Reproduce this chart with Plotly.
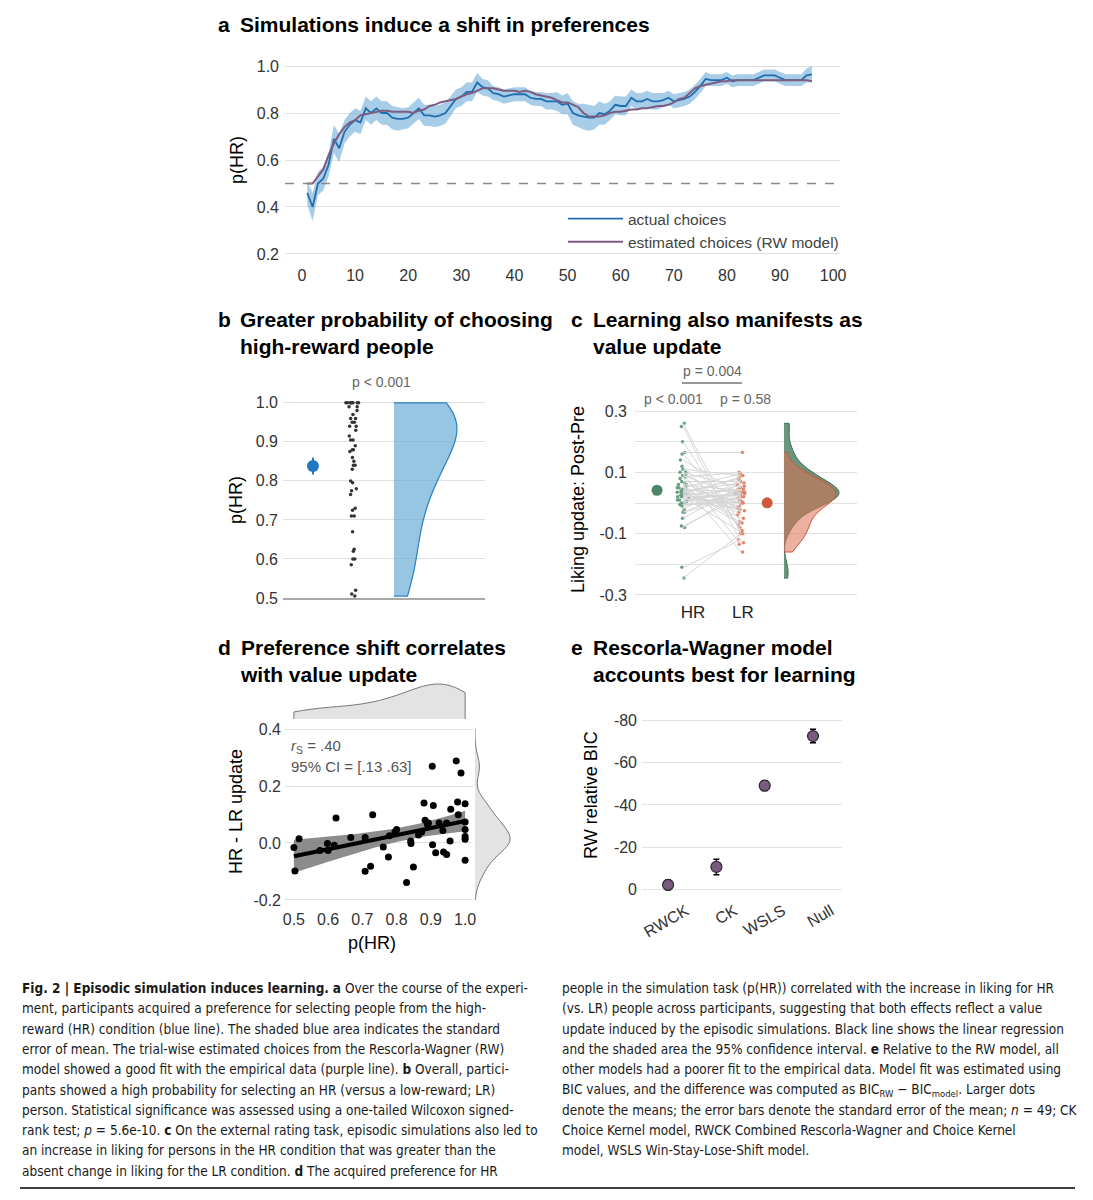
import numpy as np
import plotly.graph_objects as go

W, H = 1093, 1200
FONT = "Liberation Sans, Arial, sans-serif"
CAPTION_FONT = "Liberation Sans Narrow, DejaVu Sans Condensed, sans-serif"

# panel a - trial-wise preference for HR
trials = list(range(1, 97))
actual_choices = [0.46, 0.40, 0.50, 0.52, 0.58, 0.69, 0.65, 0.72, 0.75, 0.77,
                  0.76, 0.82, 0.80, 0.82, 0.80, 0.80, 0.78, 0.775, 0.775, 0.78,
                  0.80, 0.82, 0.79, 0.79, 0.785, 0.79, 0.80, 0.83, 0.86, 0.87,
                  0.89, 0.89, 0.93, 0.91, 0.905, 0.885, 0.88, 0.87, 0.875, 0.88,
                  0.88, 0.88, 0.865, 0.86, 0.86, 0.85, 0.85, 0.85, 0.835, 0.84,
                  0.80, 0.79, 0.785, 0.78, 0.78, 0.80, 0.795, 0.81, 0.835, 0.83,
                  0.83, 0.865, 0.85, 0.85, 0.86, 0.85, 0.85, 0.855, 0.865, 0.85,
                  0.855, 0.86, 0.87, 0.89, 0.915, 0.945, 0.94, 0.94, 0.94, 0.95,
                  0.935, 0.94, 0.94, 0.94, 0.94, 0.95, 0.96, 0.96, 0.96, 0.95,
                  0.94, 0.94, 0.94, 0.94, 0.96, 0.965]
actual_se = [0.05, 0.06, 0.05, 0.05, 0.05, 0.06, 0.06, 0.05, 0.05, 0.05,
             0.05, 0.05, 0.05, 0.05, 0.05, 0.05, 0.05, 0.05, 0.045, 0.045,
             0.045, 0.045, 0.045, 0.045, 0.045, 0.045, 0.045, 0.045, 0.04, 0.04,
             0.04, 0.04, 0.04, 0.035, 0.035, 0.03, 0.03, 0.03, 0.03, 0.03,
             0.03, 0.03, 0.03, 0.03, 0.03, 0.035, 0.035, 0.04, 0.04, 0.045,
             0.05, 0.05, 0.055, 0.055, 0.05, 0.05, 0.045, 0.04, 0.04, 0.04,
             0.04, 0.035, 0.035, 0.035, 0.035, 0.035, 0.035, 0.03, 0.03, 0.03,
             0.03, 0.03, 0.03, 0.03, 0.03, 0.03, 0.025, 0.025, 0.025, 0.025,
             0.025, 0.025, 0.025, 0.025, 0.025, 0.025, 0.025, 0.025, 0.025, 0.025,
             0.025, 0.025, 0.025, 0.025, 0.03, 0.035]
rw_estimated = [0.50, 0.50, 0.53, 0.56, 0.62, 0.67, 0.71, 0.74, 0.76, 0.77,
                0.79, 0.795, 0.80, 0.805, 0.81, 0.81, 0.805, 0.805, 0.805, 0.805,
                0.80, 0.81, 0.815, 0.83, 0.835, 0.845, 0.85, 0.855, 0.86, 0.87,
                0.88, 0.885, 0.895, 0.905, 0.905, 0.905, 0.90, 0.895, 0.895, 0.895,
                0.89, 0.895, 0.89, 0.88, 0.875, 0.87, 0.865, 0.855, 0.845, 0.845,
                0.835, 0.825, 0.80, 0.785, 0.785, 0.785, 0.79, 0.80, 0.805, 0.805,
                0.81, 0.815, 0.815, 0.82, 0.82, 0.825, 0.83, 0.83, 0.835, 0.845,
                0.86, 0.865, 0.885, 0.905, 0.915, 0.92, 0.925, 0.93, 0.935, 0.935,
                0.94, 0.94, 0.94, 0.94, 0.94, 0.94, 0.94, 0.94, 0.94, 0.94,
                0.94, 0.94, 0.94, 0.94, 0.94, 0.935]
a_ticks = [0.2, 0.4, 0.6, 0.8, 1.0]
a_ticktext = ["0.2", "0.4", "0.6", "0.8", "1.0"]

# panel b - per-participant p(HR)
phr_b = [1.0, 1.0, 1.0, 1.0, 1.0, 1.0, 1.0, 1.0, 0.99, 0.99,
         0.98, 0.97, 0.96, 0.96, 0.95, 0.95, 0.94, 0.94, 0.93, 0.915,
         0.905, 0.905, 0.89, 0.88, 0.88, 0.875, 0.86, 0.85, 0.84, 0.84,
         0.83, 0.80, 0.795, 0.78, 0.775, 0.765, 0.73, 0.725, 0.71, 0.71,
         0.67, 0.625, 0.62, 0.60, 0.60, 0.585, 0.52, 0.51, 0.505]
b_ticks = [0.5, 0.6, 0.7, 0.8, 0.9, 1.0]
b_ticktext = ["0.5", "0.6", "0.7", "0.8", "0.9", "1.0"]

# panel c - liking update, paired per participant
liking_hr = [0.26, 0.25, 0.20, 0.165, 0.16, 0.14, 0.12, 0.11, 0.10, 0.10,
             0.095, 0.09, 0.085, 0.08, 0.07, 0.065, 0.06, 0.055, 0.05, 0.05,
             0.045, 0.045, 0.04, 0.04, 0.035, 0.03, 0.03, 0.025, 0.025, 0.02,
             0.02, 0.015, 0.01, 0.01, 0.005, 0.0, 0.0, -0.005, -0.01, -0.02,
             -0.03, -0.03, -0.05, -0.075, -0.08, -0.21, -0.245, 0.06, 0.035]
liking_lr = [-0.10, -0.13, -0.09, 0.165, -0.06, 0.03, -0.08, 0.09, -0.03, 0.05,
             -0.135, 0.02, 0.10, -0.04, 0.07, -0.02, 0.04, -0.065, 0.095, 0.0,
             -0.05, 0.035, -0.07, 0.065, 0.01, -0.025, 0.085, -0.01, 0.045, -0.095,
             0.025, 0.0, 0.035, 0.03, 0.015, -0.015, 0.06, 0.005, 0.03, 0.075,
             0.045, 0.02, 0.055, 0.02, 0.035, -0.12, -0.10, -0.16, 0.08]
c_ticks = [-0.3, -0.1, 0.1, 0.3]
c_ticktext = ["-0.3", "-0.1", "0.1", "0.3"]
c_minor = [-0.2, 0.0, 0.2]

# panel d - preference shift vs value update
phr_d = [0.50, 0.503, 0.515, 0.576, 0.598, 0.60, 0.618, 0.623, 0.666, 0.708,
         0.708, 0.724, 0.730, 0.761, 0.776, 0.779, 0.795, 0.80, 0.829, 0.841,
         0.842, 0.849, 0.864, 0.873, 0.88, 0.883, 0.893, 0.904, 0.905, 0.907,
         0.914, 0.924, 0.935, 0.937, 0.946, 0.946, 0.956, 0.958, 0.974, 0.978,
         0.980, 0.988, 1.0, 1.0, 1.0, 1.0, 1.0, 1.0, 0.89]
update_d = [-0.016, -0.098, 0.015, -0.026, -0.002, -0.026, -0.008, 0.088, 0.019, 0.019,
            -0.099, -0.082, 0.099, -0.014, -0.049, 0.025, 0.039, 0.047, -0.139, 0.007,
            -0.002, -0.084, 0.028, 0.039, 0.14, 0.080, 0.070, 0.269, -0.006, 0.132,
            -0.034, 0.070, 0.044, -0.032, -0.040, 0.070, 0.007, 0.118, 0.288, 0.144,
            0.099, 0.246, 0.138, 0.074, 0.047, 0.023, 0.013, -0.061, 0.065]
d_xticks = [0.5, 0.6, 0.7, 0.8, 0.9, 1.0]
d_xticktext = ["0.5", "0.6", "0.7", "0.8", "0.9", "1.0"]
d_yticks = [-0.2, 0.0, 0.2, 0.4]
d_yticktext = ["-0.2", "0.0", "0.2", "0.4"]

# panel e - BIC relative to RW
models = ["RWCK", "CK", "WSLS", "Null"]
bic_mean = [-2.1, -10.6, -49.2, -72.7]
bic_se = [2.3, 3.7, 2.3, 3.2]
e_ticks = [0, -20, -40, -60, -80]
e_ticktext = ["0", "-20", "-40", "-60", "-80"]

# the page puts the figure 8px in from the top-left corner
OFF = 8


def px(v):
    return (v - OFF) / W


def py(v):
    return 1 - (v - OFF) / H


BLUE = "#1f6fb0"
PURPLE = "#7d5c80"
GREEN = "#4f8468"
RED = "#d0593c"
GRID = "#e2e2e2"
TICK = dict(family=FONT, size=16, color="#333")

fig = go.Figure()

# ---------------- panel a
upper = [m + s for m, s in zip(actual_choices, actual_se)]
lower = [m - s for m, s in zip(actual_choices, actual_se)]
fig.add_trace(go.Scatter(x=trials + trials[::-1], y=upper + lower[::-1], fill="toself",
                         fillcolor="rgba(110,172,216,0.6)", line=dict(width=0),
                         showlegend=False, hoverinfo="skip", xaxis="x", yaxis="y"))
fig.add_trace(go.Scatter(x=trials, y=actual_choices, mode="lines", name="actual choices",
                         line=dict(color=BLUE, width=1.8), xaxis="x", yaxis="y"))
fig.add_trace(go.Scatter(x=trials, y=rw_estimated, mode="lines",
                         name="estimated choices (RW model)",
                         line=dict(color=PURPLE, width=2), xaxis="x", yaxis="y"))

# ---------------- panel b
mb = np.mean(phr_b)
seb = np.std(phr_b, ddof=1) / np.sqrt(len(phr_b))
fig.add_trace(go.Scatter(x=[0], y=[mb], mode="markers",
                         marker=dict(color="#1f78c1", size=12),
                         error_y=dict(type="data", array=[seb], color="#1f78c1", thickness=2, width=0),
                         showlegend=False, xaxis="x2", yaxis="y2"))
fig.add_trace(go.Box(y=phr_b, x0=1, boxpoints="all", jitter=0.9, pointpos=0, width=0.42,
                     marker=dict(color="#333", size=3.5), line=dict(color="rgba(0,0,0,0)"),
                     fillcolor="rgba(0,0,0,0)", showlegend=False, xaxis="x2", yaxis="y2"))
fig.add_trace(go.Violin(y=phr_b, x0=2, side="positive", width=3.1, spanmode="hard",
                        bandwidth=0.08, points=False, fillcolor="rgba(107,174,214,0.7)",
                        line=dict(color="#2a7fc0", width=1.2), showlegend=False,
                        xaxis="x2", yaxis="y2"))

# ---------------- panel c
lx, ly = [], []
for h, l in zip(liking_hr, liking_lr):
    lx += [1, 2, None]
    ly += [h, l, None]
fig.add_trace(go.Scatter(x=lx, y=ly, mode="lines", line=dict(color="#d6d6d6", width=1),
                         showlegend=False, hoverinfo="skip", xaxis="x3", yaxis="y3"))
fig.add_trace(go.Box(y=liking_hr, x0=1, boxpoints="all", jitter=0.8, pointpos=0, width=0.3,
                     marker=dict(color="#6a9e82", size=3.5), line=dict(color="rgba(0,0,0,0)"),
                     fillcolor="rgba(0,0,0,0)", showlegend=False, xaxis="x3", yaxis="y3"))
fig.add_trace(go.Box(y=liking_lr, x0=2, boxpoints="all", jitter=0.8, pointpos=0, width=0.3,
                     marker=dict(color="#e58468", size=3.5), line=dict(color="rgba(0,0,0,0)"),
                     fillcolor="rgba(0,0,0,0)", showlegend=False, xaxis="x3", yaxis="y3"))
fig.add_trace(go.Scatter(x=[0.55], y=[np.mean(liking_hr)], mode="markers",
                         marker=dict(color=GREEN, size=11), showlegend=False,
                         xaxis="x3", yaxis="y3"))
fig.add_trace(go.Scatter(x=[2.45], y=[np.mean(liking_lr)], mode="markers",
                         marker=dict(color=RED, size=11), showlegend=False,
                         xaxis="x3", yaxis="y3"))
fig.add_trace(go.Violin(y=liking_hr, x0=2.74, side="positive", width=1.9, spanmode="hard",
                        points=False, fillcolor="rgba(79,132,104,0.85)",
                        line=dict(color="#3f6e56", width=1), showlegend=False,
                        xaxis="x3", yaxis="y3"))
fig.add_trace(go.Violin(y=liking_lr, x0=2.74, side="positive", width=1.8, spanmode="hard",
                        points=False, fillcolor="rgba(222,110,80,0.55)",
                        line=dict(color="#c8553d", width=1), showlegend=False,
                        xaxis="x3", yaxis="y3"))

# ---------------- panel d
xd = np.array(phr_d)
yd = np.array(update_d)
slope, intercept = np.polyfit(xd, yd, 1)
xs = np.linspace(xd.min(), xd.max(), 60)
fit = intercept + slope * xs
n = len(xd)
resid = yd - (intercept + slope * xd)
s_err = np.sqrt(np.sum(resid ** 2) / (n - 2))
se_fit = s_err * np.sqrt(1 / n + (xs - xd.mean()) ** 2 / np.sum((xd - xd.mean()) ** 2))
t_crit = 2.012
fig.add_trace(go.Scatter(x=list(xs) + list(xs[::-1]),
                         y=list(fit + t_crit * se_fit) + list((fit - t_crit * se_fit)[::-1]),
                         fill="toself", fillcolor="rgba(120,120,120,0.85)", line=dict(width=0),
                         showlegend=False, hoverinfo="skip", xaxis="x4", yaxis="y4"))
fig.add_trace(go.Scatter(x=phr_d, y=update_d, mode="markers",
                         marker=dict(color="black", size=7), showlegend=False,
                         xaxis="x4", yaxis="y4"))
fig.add_trace(go.Scatter(x=xs, y=fit, mode="lines", line=dict(color="black", width=4),
                         showlegend=False, xaxis="x4", yaxis="y4"))
fig.add_trace(go.Violin(x=phr_d, y0=0, orientation="h", side="positive", width=1.75,
                        spanmode="manual", span=[0.5, 1.0], bandwidth=0.075, points=False,
                        fillcolor="#e3e3e3", line=dict(color="#777", width=1),
                        showlegend=False, xaxis="x5", yaxis="y5"))
fig.add_trace(go.Violin(y=update_d, x0=0, side="positive", width=1.75,
                        spanmode="manual", span=[-0.2, 0.4], points=False,
                        fillcolor="#e3e3e3", line=dict(color="#777", width=1),
                        showlegend=False, xaxis="x6", yaxis="y6"))

# ---------------- panel e
fig.add_trace(go.Scatter(x=models, y=bic_mean, mode="markers",
                         marker=dict(color="#7a5a80", size=11, line=dict(color="#2a2a2a", width=1.2)),
                         error_y=dict(type="data", array=bic_se, color="black", thickness=1.5, width=3),
                         showlegend=False, xaxis="x7", yaxis="y7"))

fig.update_layout(
    width=W, height=H, margin=dict(l=0, r=0, t=0, b=0, autoexpand=False),
    paper_bgcolor="white", plot_bgcolor="white",
    font=dict(family=FONT, color="#222"),
    violinmode="overlay", boxmode="overlay",
    xaxis=dict(domain=[px(285), px(840)], range=[-3.2, 101.3], tickvals=list(range(0, 101, 10)),
               showgrid=False, zeroline=False, tickfont=TICK, anchor="y", automargin=False,
               ticklabelstandoff=3),
    yaxis=dict(domain=[py(261), py(59)], range=[0.17, 1.03], tickvals=a_ticks, ticktext=a_ticktext,
               gridcolor=GRID, zeroline=False, tickfont=TICK, anchor="x", automargin=False,
               ticklabelstandoff=5),
    xaxis2=dict(domain=[px(283), px(485)], range=[-0.74, 4.25], showticklabels=False,
                showgrid=False, zeroline=False, showline=True, linecolor="#a8a8a8", linewidth=2,
                anchor="y2", automargin=False),
    yaxis2=dict(domain=[py(598), py(395)], range=[0.5, 1.02], tickvals=b_ticks, ticktext=b_ticktext,
                gridcolor=GRID, zeroline=False, tickfont=TICK, anchor="x2", automargin=False,
                ticklabelstandoff=4),
    xaxis3=dict(domain=[px(635), px(857)], range=[0.17, 4.0], tickvals=[1.17, 2.03],
                ticktext=["HR", "LR"], showgrid=False, zeroline=False,
                tickfont=dict(family=FONT, size=17, color="#222"), anchor="y3", automargin=False,
                ticklabelstandoff=2),
    yaxis3=dict(domain=[py(598), py(408)], range=[-0.31, 0.31], tickvals=c_ticks, ticktext=c_ticktext,
                gridcolor=GRID, zeroline=False, tickfont=TICK, anchor="x3", automargin=False,
                ticklabelstandoff=7,
                minor=dict(tickvals=c_minor, showgrid=True, gridcolor=GRID, gridwidth=1)),
    xaxis4=dict(domain=[px(285), px(473)], range=[0.474, 1.023], tickvals=d_xticks,
                ticktext=d_xticktext, showgrid=False, zeroline=False, tickfont=TICK, anchor="y4",
                automargin=False, ticklabelstandoff=7),
    yaxis4=dict(domain=[py(901.4), py(727.6)], range=[-0.205, 0.405], tickvals=d_yticks,
                ticktext=d_yticktext, gridcolor=GRID, zeroline=False, tickfont=TICK, anchor="x4",
                automargin=False, ticklabelstandoff=3),
    xaxis5=dict(domain=[px(285), px(473)], range=[0.474, 1.023], visible=False, anchor="y5"),
    yaxis5=dict(domain=[py(719), py(679)], range=[0, 1], visible=False, anchor="x5"),
    xaxis6=dict(domain=[px(475), px(515)], range=[0, 1], visible=False, anchor="y6"),
    yaxis6=dict(domain=[py(901.4), py(727.6)], range=[-0.205, 0.405], visible=False, anchor="x6"),
    xaxis7=dict(domain=[px(642), px(842)], range=[-0.54, 3.6], showgrid=False, zeroline=False,
                tickangle=-30, ticklabelshift=18, tickfont=dict(family=FONT, size=16, color="#333"),
                anchor="y7", automargin=False),
    yaxis7=dict(domain=[py(897.7), py(708)], range=[4, -86], tickvals=e_ticks, ticktext=e_ticktext,
                gridcolor=GRID, zeroline=False, tickfont=TICK, anchor="x7", automargin=False,
                ticklabelstandoff=4),
    legend=dict(x=px(563), y=py(202), xanchor="left", yanchor="top", bgcolor="rgba(0,0,0,0)",
                font=dict(family=FONT, size=15.5, color="#444"), itemwidth=55),
)

fig.add_shape(type="line", xref="x domain", yref="y", x0=0, x1=1, y0=0.5, y1=0.5,
              line=dict(color="#8a8a8a", width=1.5, dash="dash"))
fig.add_shape(type="line", xref="paper", yref="paper", x0=px(682), x1=px(742),
              y0=py(383), y1=py(383), line=dict(color="#333", width=1.2))
fig.add_shape(type="line", xref="paper", yref="paper", x0=px(20), x1=px(1075),
              y0=py(1188), y1=py(1188), line=dict(color="black", width=1.5))

ann = []


def text(x, y, s, size=16, color="#222", xanchor="center", angle=0, family=FONT, align="left"):
    ann.append(dict(x=px(x), y=py(y), xref="paper", yref="paper", text=s, showarrow=False,
                    xanchor=xanchor, yanchor="middle", textangle=angle, align=align,
                    font=dict(family=family, size=size, color=color)))


def title(x, y, letter, s):
    ann.append(dict(x=px(x), y=py(y), xref="paper", yref="paper", text="<b>" + letter + "</b>",
                    showarrow=False, xanchor="left", yanchor="top",
                    font=dict(family=FONT, size=21, color="black")))
    ann.append(dict(x=px(x + 22), y=py(y), xref="paper", yref="paper", text="<b>" + s + "</b>",
                    showarrow=False, xanchor="left", yanchor="top", align="left",
                    font=dict(family=FONT, size=21, color="black")))


title(216, 11, "a", "Simulations induce a shift in preferences")
title(216, 306, "b", "Greater probability of choosing<br>high-reward people")
title(569, 306, "c", "Learning also manifests as<br>value update")
title(216, 634, "d", "Preference shift correlates<br>with value update")
title(569, 634, "e", "Rescorla-Wagner model<br>accounts best for learning")

text(237, 160, "p(HR)", size=18, color="black", angle=-90)
text(236, 500, "p(HR)", size=18, color="black", angle=-90)
text(578, 500, "Liking update: Post-Pre", size=18, color="black", angle=-90)
text(236, 812, "HR - LR update", size=18, color="black", angle=-90)
text(372, 943, "p(HR)", size=18, color="black")
text(591, 795, "RW relative BIC", size=18, color="black", angle=-90)

text(381, 382, "p < 0.001", size=14, color="#666")
text(712, 371, "p = 0.004", size=14, color="#666")
text(673, 399, "p < 0.001", size=14, color="#666")
text(745, 399, "p = 0.58", size=14, color="#666")
text(289, 746, "<i>r</i><sub>S</sub> = .40", size=15, color="#555", xanchor="left")
text(289, 767, "95% CI = [.13 .63]", size=15, color="#555", xanchor="left")

caption_left = [
    "<b>Fig. 2 | Episodic simulation induces learning.</b> <b>a</b> Over the course of the experi-",
    "ment, participants acquired a preference for selecting people from the high-",
    "reward (HR) condition (blue line). The shaded blue area indicates the standard",
    "error of mean. The trial-wise estimated choices from the Rescorla-Wagner (RW)",
    "model showed a good fit with the empirical data (purple line). <b>b</b> Overall, partici-",
    "pants showed a high probability for selecting an HR (versus a low-reward; LR)",
    "person. Statistical significance was assessed using a one-tailed Wilcoxon signed-",
    "rank test; <i>p</i> = 5.6e-10. <b>c</b> On the external rating task, episodic simulations also led to",
    "an increase in liking for persons in the HR condition that was greater than the",
    "absent change in liking for the LR condition. <b>d</b> The acquired preference for HR",
]
caption_right = [
    "people in the simulation task (p(HR)) correlated with the increase in liking for HR",
    "(vs. LR) people across participants, suggesting that both effects reflect a value",
    "update induced by the episodic simulations. Black line shows the linear regression",
    "and the shaded area the 95% confidence interval. <b>e</b> Relative to the RW model, all",
    "other models had a poorer fit to the empirical data. Model fit was estimated using",
    "BIC values, and the difference was computed as BIC<sub>RW</sub> \u2212 BIC<sub>model</sub>. Larger dots",
    "denote the means; the error bars denote the standard error of the mean; <i>n</i> = 49; CK",
    "Choice Kernel model, RWCK Combined Rescorla-Wagner and Choice Kernel",
    "model, WSLS Win-Stay-Lose-Shift model.",
]
for i, line in enumerate(caption_left):
    text(20, 988 + i * 20.3, line, size=13.5, color="#1a1a1a", xanchor="left", family=CAPTION_FONT)
for i, line in enumerate(caption_right):
    text(560, 988 + i * 20.3, line, size=13.5, color="#1a1a1a", xanchor="left", family=CAPTION_FONT)

fig.update_layout(annotations=ann)
fig.write_html("out.html")
